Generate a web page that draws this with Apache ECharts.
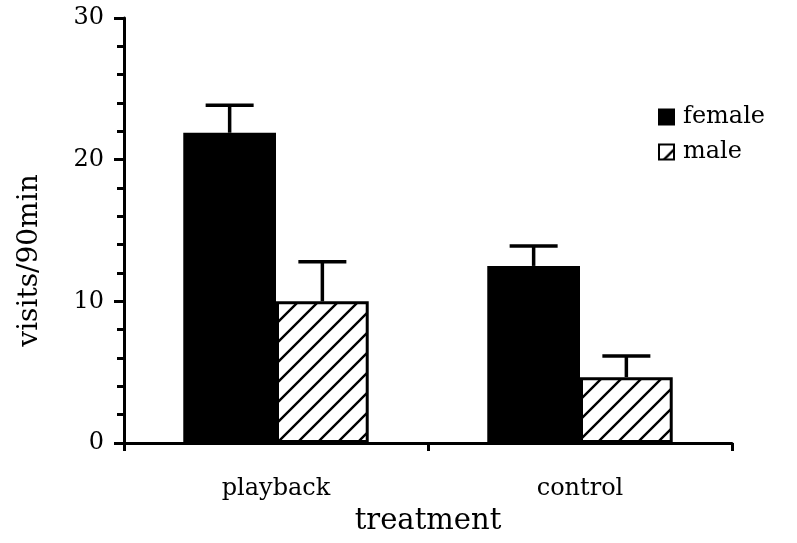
<!DOCTYPE html>
<html>
<head>
<meta charset="utf-8">
<script src="https://cdn.jsdelivr.net/npm/echarts@6/dist/echarts.min.js"></script>
<style>
  html, body { margin: 0; padding: 0; background: #fff; }
  #chart { width: 797px; height: 543px; }
</style>
</head>
<body>
<div id="chart"></div>
<script>
// data
const categories = ['playback', 'control']
const femaleMean = [21.9, 12.5]
const femaleErr = [1.95, 1.4]
const maleMean = [10.0, 4.65]
const maleErr = [2.8, 1.5]
const yTicks = [0, 10, 20, 30]

const font = 'DejaVu Serif'

// hatch pattern for the male bars
function makeHatch () {
  const c = document.createElement('canvas')
  c.width = 20
  c.height = 20
  const ctx = c.getContext('2d')
  ctx.fillStyle = '#fff'
  ctx.fillRect(0, 0, 20, 20)
  ctx.strokeStyle = '#000'
  ctx.lineWidth = 2.4
  ctx.beginPath()
  ctx.moveTo(-2, 22); ctx.lineTo(22, -2)
  ctx.moveTo(-12, 12); ctx.lineTo(12, -12)
  ctx.moveTo(8, 32); ctx.lineTo(32, 8)
  ctx.stroke()
  return c
}

const barPct = 0.305

// error bar (upper whisker only) drawn through the axes
function errRenderer (means, errs, side) {
  return function (params, api) {
    const i = api.value(0)
    const band = api.size([1, 0])[0]
    const bw = band * barPct
    const top = api.coord([i, means[i] + errs[i]])
    const base = api.coord([i, means[i]])
    const x = top[0] + side * bw / 2
    const half = 24
    const style = { stroke: '#000', lineWidth: 3.5 }
    return {
      type: 'group',
      children: [
        { type: 'line', shape: { x1: x, y1: base[1], x2: x, y2: top[1] }, style },
        { type: 'line', shape: { x1: x - half, y1: top[1], x2: x + half, y2: top[1] }, style }
      ]
    }
  }
}

const chart = echarts.init(document.getElementById('chart'), null, { renderer: 'canvas' })

chart.setOption({
  animation: false,
  backgroundColor: '#fff',
  textStyle: { fontFamily: font, color: '#000' },
  grid: { left: 124, right: 65, top: 18, bottom: 100 },
  legend: {
    orient: 'vertical',
    left: 653,
    top: 100,
    itemWidth: 15,
    itemHeight: 15,
    itemGap: 11,
    icon: 'rect',
    data: ['female', 'male'],
    textStyle: { fontFamily: font, fontSize: 24, color: '#000', padding: [0, 0, 0, 4] }
  },
  xAxis: {
    type: 'category',
    data: categories,
    name: 'treatment',
    nameLocation: 'middle',
    nameGap: 64,
    nameTextStyle: { fontFamily: font, fontSize: 29, color: '#000' },
    axisLine: { lineStyle: { color: '#000', width: 3 } },
    axisTick: { show: true, length: 8, lineStyle: { color: '#000', width: 3 } },
    axisLabel: { margin: 34, fontFamily: font, fontSize: 24, color: '#000' },
    splitLine: { show: false }
  },
  yAxis: {
    type: 'value',
    min: yTicks[0],
    max: yTicks[yTicks.length - 1],
    interval: 10,
    name: 'visits/90min',
    nameLocation: 'middle',
    nameGap: 80,
    nameTextStyle: { fontFamily: font, fontSize: 28, color: '#000', padding: [0, 0, 0, -60] },
    axisLine: { show: true, lineStyle: { color: '#000', width: 3 } },
    axisTick: { show: true, length: 10, lineStyle: { color: '#000', width: 3 } },
    minorTick: { show: true, splitNumber: 5, length: 7, lineStyle: { color: '#000', width: 3 } },
    axisLabel: { margin: 20, fontFamily: font, fontSize: 24, color: '#000' },
    splitLine: { show: false }
  },
  series: [
    {
      name: 'female',
      type: 'bar',
      data: femaleMean,
      barWidth: (barPct * 100) + '%',
      barGap: '0%',
      itemStyle: { color: '#000', borderColor: '#000', borderWidth: 2 }
    },
    {
      name: 'male',
      type: 'bar',
      data: maleMean,
      barWidth: (barPct * 100) + '%',
      itemStyle: {
        color: { image: makeHatch(), repeat: 'repeat' },
        borderColor: '#000',
        borderWidth: 3
      }
    },
    {
      type: 'custom',
      data: categories.map((c, i) => [i]),
      renderItem: errRenderer(femaleMean, femaleErr, -1),
      z: 5,
      silent: true
    },
    {
      type: 'custom',
      data: categories.map((c, i) => [i]),
      renderItem: errRenderer(maleMean, maleErr, 1),
      z: 5,
      silent: true
    }
  ]
})
</script>
</body>
</html>
